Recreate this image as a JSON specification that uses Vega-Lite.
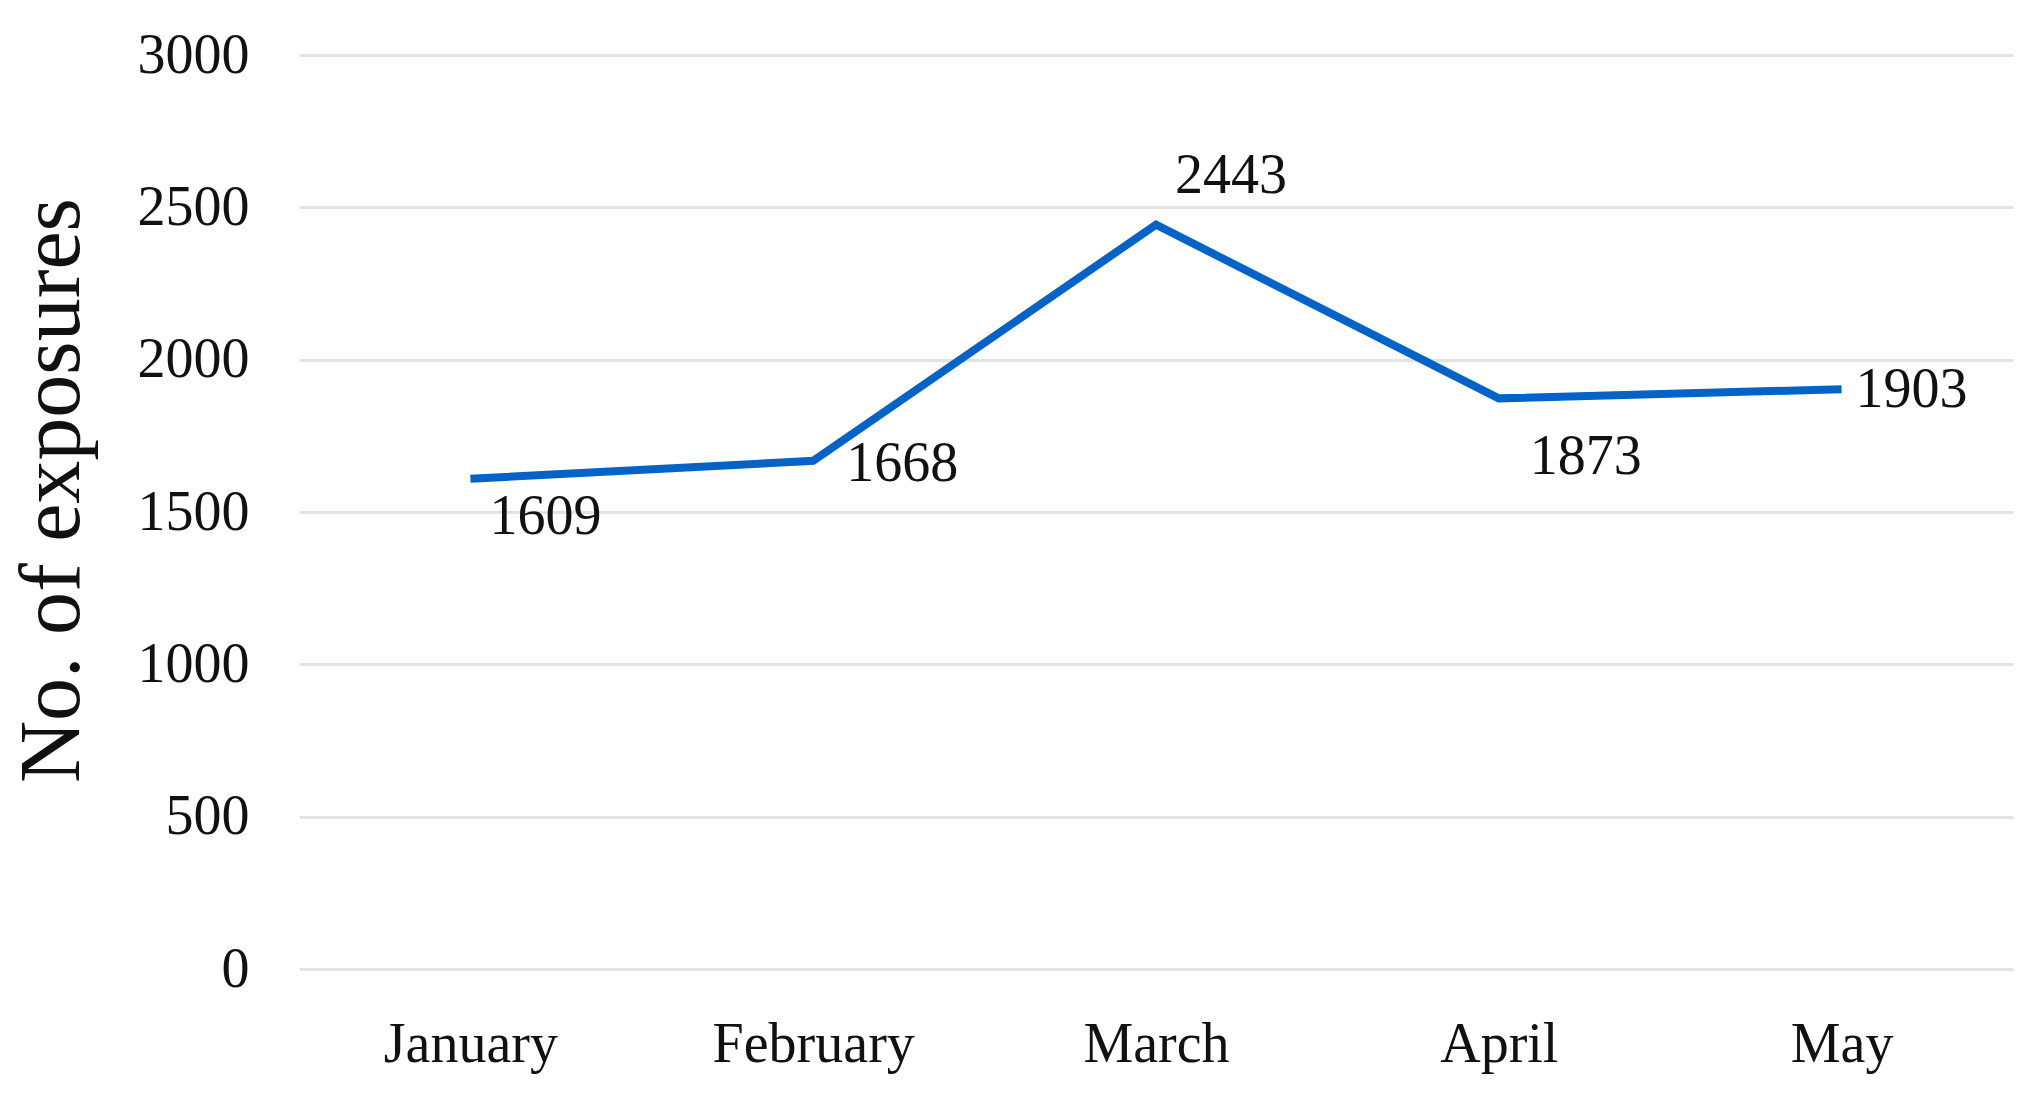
{
  "$schema": "https://vega.github.io/schema/vega-lite/v6.json",
  "autosize": "none",
  "width": 1714,
  "height": 914,
  "padding": {"left": 299, "top": 55, "right": 24, "bottom": 135},
  "background": "white",
  "config": {
    "view": {"stroke": null},
    "font": "Liberation Serif"
  },
  "data": {
    "values": [
      {"month": "January", "exposures": 1609},
      {"month": "February", "exposures": 1668},
      {"month": "March", "exposures": 2443},
      {"month": "April", "exposures": 1873},
      {"month": "May", "exposures": 1903}
    ]
  },
  "encoding": {
    "x": {
      "field": "month", "type": "ordinal", "sort": null,
      "scale": {"type": "point", "padding": 0.5},
      "axis": {
        "title": null, "labelAngle": 0, "domain": false, "ticks": false,
        "labelFont": "Liberation Serif", "labelFontSize": 56, "labelColor": "#111111",
        "labelPadding": 48, "labelLimit": 0, "grid": false
      }
    },
    "y": {
      "field": "exposures", "type": "quantitative",
      "scale": {"domain": [0, 3000], "nice": false},
      "axis": {
        "values": [0, 500, 1000, 1500, 2000, 2500, 3000],
        "format": "d",
        "title": "No. of exposures",
        "titleFont": "Liberation Serif", "titleFontSize": 86, "titleFontWeight": "normal",
        "titleColor": "#111111",
        "titleAngle": -90, "titleX": -247, "titleY": 435,
        "titleAlign": "center", "titleBaseline": "middle",
        "domain": false, "ticks": false,
        "labelFont": "Liberation Serif", "labelFontSize": 56, "labelColor": "#111111",
        "labelPadding": 50,
        "grid": true, "gridColor": "#E3E3E3", "gridWidth": 3
      }
    }
  },
  "layer": [
    {
      "mark": {"type": "line", "color": "#0563C8", "strokeWidth": 8, "strokeJoin": "miter"}
    },
    {
      "transform": [{"filter": "datum.month === 'January'"}],
      "mark": {"type": "text", "font": "Liberation Serif", "fontSize": 56, "color": "#111111", "align": "center", "baseline": "middle", "dx": 75, "dy": 38},
      "encoding": {"text": {"field": "exposures", "type": "quantitative", "format": "d"}}
    },
    {
      "transform": [{"filter": "datum.month === 'February'"}],
      "mark": {"type": "text", "font": "Liberation Serif", "fontSize": 56, "color": "#111111", "align": "center", "baseline": "middle", "dx": 89, "dy": 3},
      "encoding": {"text": {"field": "exposures", "type": "quantitative", "format": "d"}}
    },
    {
      "transform": [{"filter": "datum.month === 'March'"}],
      "mark": {"type": "text", "font": "Liberation Serif", "fontSize": 56, "color": "#111111", "align": "center", "baseline": "middle", "dx": 75, "dy": -49},
      "encoding": {"text": {"field": "exposures", "type": "quantitative", "format": "d"}}
    },
    {
      "transform": [{"filter": "datum.month === 'April'"}],
      "mark": {"type": "text", "font": "Liberation Serif", "fontSize": 56, "color": "#111111", "align": "center", "baseline": "middle", "dx": 87, "dy": 59},
      "encoding": {"text": {"field": "exposures", "type": "quantitative", "format": "d"}}
    },
    {
      "transform": [{"filter": "datum.month === 'May'"}],
      "mark": {"type": "text", "font": "Liberation Serif", "fontSize": 56, "color": "#111111", "align": "center", "baseline": "middle", "dx": 70, "dy": 1},
      "encoding": {"text": {"field": "exposures", "type": "quantitative", "format": "d"}}
    }
  ]
}
